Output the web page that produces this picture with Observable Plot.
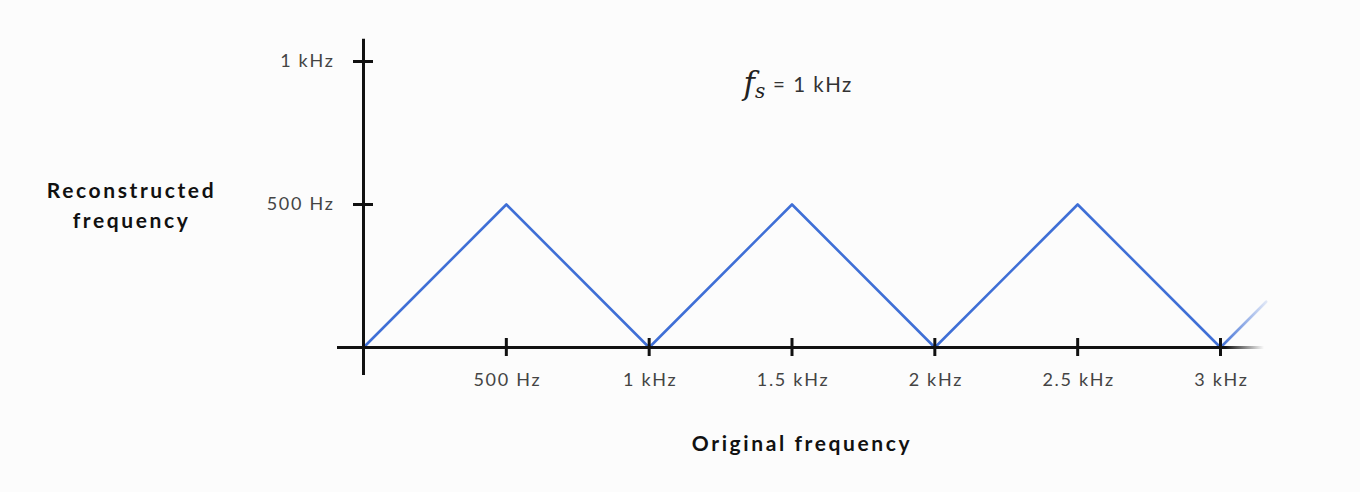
<!DOCTYPE html>
<html>
<head>
<meta charset="utf-8">
<script src="https://cdn.jsdelivr.net/npm/d3@7"></script>
<script src="https://cdn.jsdelivr.net/npm/@observablehq/plot@0.6"></script>
<style>
  html, body { margin: 0; padding: 0; background: #fcfcfc; }
  #chart svg { display: block; background: transparent; }
  #chart g[font-size="18"] text { letter-spacing: 1.7px; }
  #chart g[font-size="20.5"] text { letter-spacing: 1.5px; }
  #chart g[font-weight="bold"][font-size="21"] text { letter-spacing: 2.6px; }
</style>
</head>
<body>
<div id="chart"></div>
<script>
// ---- data ----
const originalHz = [0, 500, 1000, 1500, 2000, 2500, 3000];
const reconstructedHz = [0, 500, 0, 500, 0, 500, 0];
const tailOriginalHz = [3000, 3160];
const tailReconstructedHz = [0, 160];
const xTicks = [500, 1000, 1500, 2000, 2500, 3000];
const xTickLabels = ["500 Hz", "1 kHz", "1.5 kHz", "2 kHz", "2.5 kHz", "3 kHz"];
const yTicks = [500, 1000];
const yTickLabels = ["500 Hz", "1 kHz"];
const xAxisExtent = [-91, 3154];
const yAxisExtent = [-98, 1078];
const xLabel = "Original frequency";
const yLabel = "Reconstructed frequency";
const annotation = { symbol: "f", sub: "s", rest: "= 1 kHz" };

const main = originalHz.map((x, i) => ({ x, y: reconstructedHz[i] }));
const tail = tailOriginalHz.map((x, i) => ({ x, y: tailReconstructedHz[i] }));

const BLUE = "#3f6fd6";
const INK = "#111";
const SANS = "Lato, 'Open Sans', sans-serif";
const SERIF = "'DejaVu Serif', 'Liberation Serif', serif";

const defsMark = (index, scales) => {
  const g = d3.create("svg:g");
  const defs = g.append("defs");
  const gl = defs.append("linearGradient").attr("id", "tailFade")
    .attr("gradientUnits", "userSpaceOnUse")
    .attr("x1", scales.x(tailOriginalHz[0])).attr("x2", scales.x(tailOriginalHz[1]))
    .attr("y1", 0).attr("y2", 0);
  gl.append("stop").attr("offset", 0).attr("stop-color", BLUE).attr("stop-opacity", 1);
  gl.append("stop").attr("offset", 1).attr("stop-color", BLUE).attr("stop-opacity", 0.15);
  const ga = defs.append("linearGradient").attr("id", "axisFade")
    .attr("gradientUnits", "userSpaceOnUse")
    .attr("x1", scales.x(3020)).attr("x2", scales.x(xAxisExtent[1]))
    .attr("y1", 0).attr("y2", 0);
  ga.append("stop").attr("offset", 0).attr("stop-color", INK).attr("stop-opacity", 1);
  ga.append("stop").attr("offset", 1).attr("stop-color", INK).attr("stop-opacity", 0);
  return g.node();
};

const chart = Plot.plot({
  width: 1360,
  height: 492,
  marginLeft: 363,
  marginRight: 140,
  marginTop: 61,
  marginBottom: 145,
  style: { background: "transparent", fontFamily: SANS },
  x: { domain: [0, 3000], axis: null },
  y: { domain: [0, 1000], axis: null },
  marks: [
    defsMark,
    Plot.line(main, { x: "x", y: "y", stroke: BLUE, strokeWidth: 2.6 }),
    Plot.line(tail, { x: "x", y: "y", stroke: "url(#tailFade)", strokeWidth: 2.6 }),
    // axes lines
    Plot.ruleY([0], { x1: xAxisExtent[0], x2: xAxisExtent[1], stroke: "url(#axisFade)", strokeWidth: 3 }),
    Plot.ruleX([0], { y1: yAxisExtent[0], y2: yAxisExtent[1], stroke: INK, strokeWidth: 3 }),
    // ticks crossing axes
    Plot.ruleX(xTicks, { x: d => d, y1: 0, y2: 0, insetTop: -9, insetBottom: -9, stroke: INK, strokeWidth: 3 }),
    Plot.ruleY(yTicks, { y: d => d, x1: 0, x2: 0, insetLeft: -10, insetRight: -10, stroke: INK, strokeWidth: 3 }),
    // tick labels
    Plot.text(xTicks, { x: d => d, y: 0, text: (d, i) => xTickLabels[i], dx: 1, dy: 33, fontSize: 18, fill: "#444", fontFamily: SANS }),
    Plot.text(yTicks, { x: 0, y: d => d, text: (d, i) => yTickLabels[i], dx: -29, textAnchor: "end", fontSize: 18, fill: "#444", fontFamily: SANS }),
    // axis titles
    Plot.text([xLabel], { frameAnchor: "bottom", lineAnchor: "middle", dx: 10, dy: 97, fontSize: 21, fontWeight: "bold", fill: INK, fontFamily: SANS }),
    Plot.text([yLabel], { frameAnchor: "left", lineAnchor: "middle", dx: -232, dy: -1, lineHeight: 1.45, lineWidth: 9, fontSize: 21, fontWeight: "bold", fill: INK, fontFamily: SANS, textAnchor: "middle" }),
    // annotation f_s = 1 kHz
    Plot.text([annotation.symbol], { frameAnchor: "top", lineAnchor: "middle", dx: -37, dy: 23, textAnchor: "end", fontSize: 31, fontStyle: "italic", fontFamily: SERIF, fill: "#222" }),
    Plot.text([annotation.sub], { frameAnchor: "top", lineAnchor: "middle", dx: -37, dy: 30, textAnchor: "start", fontSize: 20, fontStyle: "italic", fontFamily: SERIF, fill: "#222" }),
    Plot.text([annotation.rest], { frameAnchor: "top", lineAnchor: "middle", dx: -19, dy: 24, textAnchor: "start", fontSize: 20.5, fill: "#333", fontFamily: SANS })
  ]
});
document.getElementById("chart").append(chart);
</script>
</body>
</html>
